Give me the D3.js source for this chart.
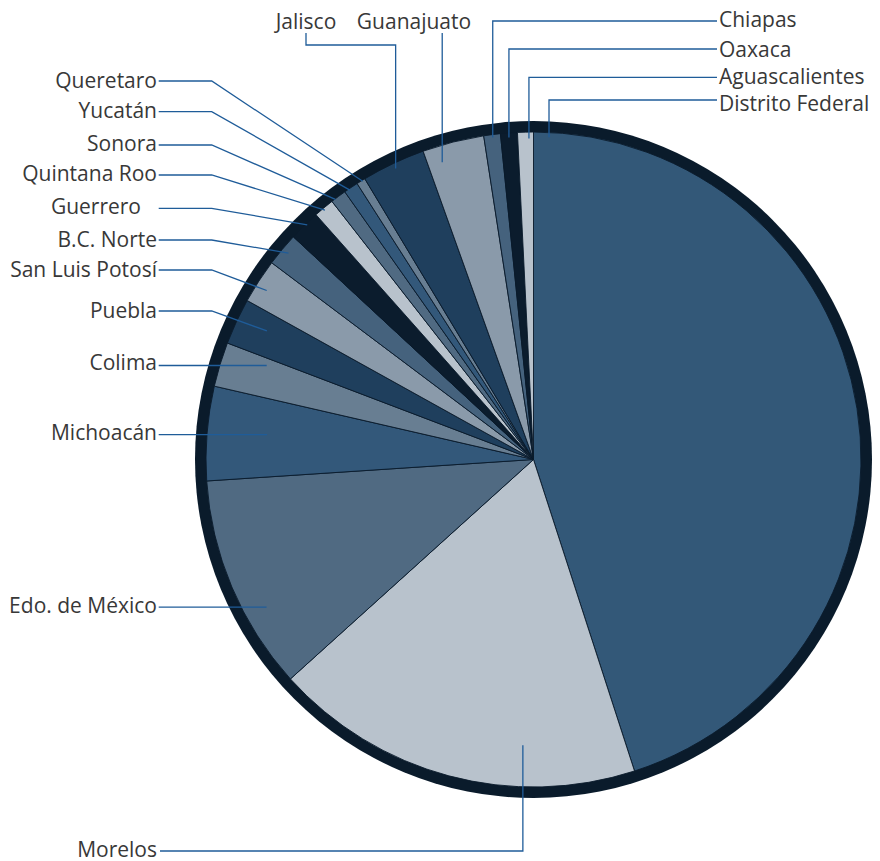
<!DOCTYPE html>
<html>
<head>
<meta charset="utf-8">
<script src="https://cdn.jsdelivr.net/npm/d3@7"></script>
<style>
  html, body { margin: 0; padding: 0; background: #ffffff; }
  svg { display: block; }
</style>
</head>
<body>
<svg id="chart" width="880" height="861"></svg>
<script>
// States, clockwise from 12 o'clock
const states = [
  "Distrito Federal", "Morelos", "Edo. de México", "Michoacán", "Colima",
  "Puebla", "San Luis Potosí", "B.C. Norte", "Guerrero", "Quintana Roo",
  "Sonora", "Yucatán", "Queretaro", "Jalisco", "Guanajuato",
  "Chiapas", "Oaxaca", "Aguascalientes"
];

// Share of the total, percent
const shares = [
  45.0, 18.3, 10.64, 4.64, 2.19,
  2.28, 2.19, 1.64, 1.54, 1.01,
  0.78, 0.72, 0.44, 3.14, 3.04,
  0.82, 0.83, 0.78
];

// Slice fills, one per state in the same order
const fills = [
  "#335878", "#b8c2cc", "#506a82", "#33587a", "#687e92",
  "#1f3f5d", "#8a9aaa", "#45627d", "#0b1c2d", "#b8c2cc",
  "#506a82", "#33587a", "#687e92", "#1f3f5d", "#8a9aaa",
  "#45627d", "#0b1c2d", "#b8c2cc"
];

// ---- layout -------------------------------------------------------------
const cx = 533.5, cy = 459.5;
const rOuter = 338.5, rInner = 327.5;
const ringColor = "#0a1b2b";
const leaderColor = "#1f5c99";
const textColor = "#383838";

// Leader line layout per label: where inside the slice the pointer ends
// (t = fraction across the slice's angle, r = radius) and how it is routed.
//   left  : text right-aligned at x=157, line to elbow x=211.7 then to slice
//   hleft : straight horizontal line at the pointer's height
//   right : text left-aligned at x=719, line left then down
//   top   : text centred above the pie, vertical drop
const labelLayout = {
  "Distrito Federal": { t: 0.017, r: 322.7, kind: "right", ly: 100,   ty: 110.5 },
  "Morelos":          { t: 0.305, r: 286,   kind: "bottom", ly: 851,  ty: 856.5 },
  "Edo. de México":   { t: 0.343, r: 305,   kind: "hleft", dy: 5.6 },
  "Michoacán":        { t: 0.545, r: 267.6, kind: "hleft", dy: 5.7 },
  "Colima":           { t: 0.82,  r: 282.9, kind: "hleft", dy: 4.5 },
  "Puebla":           { t: 0.60,  r: 296,   kind: "left", ly: 311,   ty: 318.3 },
  "San Luis Potosí":  { t: 0.42,  r: 315.8, kind: "left", ly: 270,   ty: 276.7 },
  "B.C. Norte":       { t: 0.54,  r: 320.4, kind: "left", ly: 240,   ty: 246.7 },
  "Guerrero":         { t: 0.58,  r: 326,   kind: "left", ly: 208.3, ty: 214, tx: 141 },
  "Quintana Roo":     { t: 0.47,  r: 325,   kind: "left", ly: 175,   ty: 180.7 },
  "Sonora":           { t: 0.25,  r: 327,   kind: "left", ly: 145,   ty: 150.7 },
  "Yucatán":          { t: 0.35,  r: 326,   kind: "left", ly: 111.7, ty: 118.3 },
  "Queretaro":        { t: 0.66,  r: 326.5, kind: "left", ly: 81,    ty: 88.3 },
  "Jalisco":          { t: 0.50,  r: 322,   kind: "topElbow", tx: 306, ty: 28.5, y0: 33, ly: 45 },
  "Guanajuato":       { t: 0.24,  r: 311,   kind: "top", tx: 414, ty: 28.5, y0: 33 },
  "Chiapas":          { t: 0.52,  r: 324.6, kind: "right", ly: 21,    ty: 27.3 },
  "Oaxaca":           { t: 0.48,  r: 323,   kind: "right", ly: 49,    ty: 56.7 },
  "Aguascalientes":   { t: 0.71,  r: 321,   kind: "right", ly: 77.3,  ty: 84 }
};

const data = states.map((s, i) => ({ state: s, value: shares[i], fill: fills[i] }));

const svg = d3.select("#chart");
const g = svg.append("g").attr("transform", `translate(${cx},${cy})`);

const pie = d3.pie().sort(null).value(d => d.value);
const arcs = pie(data);
const arc = d3.arc().innerRadius(0).outerRadius(rInner);

// dark outer ring
g.append("circle").attr("r", rOuter).attr("fill", ringColor);

// slices
g.selectAll("path.slice")
  .data(arcs)
  .join("path")
  .attr("class", "slice")
  .attr("d", arc)
  .attr("fill", d => d.data.fill)
  .attr("stroke", ringColor)
  .attr("stroke-width", 0.9)
  .attr("stroke-linejoin", "round");

// leader lines and labels (page coordinates)
const lab = svg.append("g")
  .attr("font-family", "'Open Sans', 'Noto Sans', sans-serif")
  .attr("font-size", 21)
  .attr("fill", textColor);
const leaders = svg.append("g")
  .attr("fill", "none")
  .attr("stroke", leaderColor)
  .attr("stroke-width", 1.3);

const line = d3.line();

arcs.forEach(a => {
  const L = labelLayout[a.data.state];
  const ang = a.startAngle + L.t * (a.endAngle - a.startAngle);
  const ex = cx + L.r * Math.sin(ang);
  const ey = cy - L.r * Math.cos(ang);
  let pts, text;
  switch (L.kind) {
    case "left":
      pts = [[158.7, L.ly], [211.7, L.ly], [ex, ey]];
      text = { x: L.tx || 157, y: L.ty, anchor: "end" };
      break;
    case "hleft":
      pts = [[158.7, ey], [ex, ey]];
      text = { x: 157, y: ey + L.dy, anchor: "end" };
      break;
    case "bottom":
      pts = [[160, L.ly], [ex, L.ly], [ex, ey]];
      text = { x: 157, y: L.ty, anchor: "end" };
      break;
    case "right":
      pts = [[717, L.ly], [ex, L.ly], [ex, ey]];
      text = { x: 719, y: L.ty, anchor: "start" };
      break;
    case "topElbow":
      pts = [[L.tx, L.y0], [L.tx, L.ly], [ex, L.ly], [ex, ey]];
      text = { x: L.tx, y: L.ty, anchor: "middle" };
      break;
    case "top":
      pts = [[ex, L.y0], [ex, ey]];
      text = { x: L.tx, y: L.ty, anchor: "middle" };
      break;
  }
  leaders.append("path").attr("d", line(pts));
  lab.append("text")
    .attr("x", text.x)
    .attr("y", text.y)
    .attr("text-anchor", text.anchor)
    .text(a.data.state);
});
</script>
</body>
</html>
